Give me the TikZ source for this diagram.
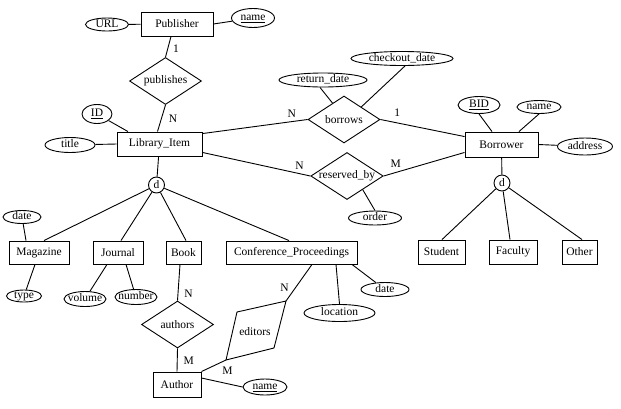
\documentclass[tikz,border=0pt]{standalone}
\usepackage{fontspec}
\setmainfont{Liberation Serif}
\usetikzlibrary{shapes.geometric, positioning}

\begin{document}
\begin{tikzpicture}[x = 1pt, y = -1pt, line width = 0.9pt, font = \fontsize{11.5}{13}\selectfont,
		entity/.style = {draw, rectangle, minimum height = 24pt, inner sep = 1pt},
		attrib/.style = {draw, ellipse, inner xsep = -4pt, inner ysep = 0pt, text height = 6.5pt, text depth = 1.5pt},
		relation/.style = {draw, diamond, aspect = 1.55, minimum width = 72pt, minimum height = 47pt, inner sep = 0pt},
		disjoint/.style = {draw, circle, minimum size = 16pt, inner sep = 0pt},
		card/.style = {inner sep = 0pt}]

		% page frame
		\useasboundingbox (0, 0) rectangle (621, 408);

		% entities
		\node[entity, minimum width = 72pt] (publisher) at (177.0, 24.0) {Publisher};
		\node[entity, minimum width = 85pt] (item) at (159.5, 144.0) {Library\_Item};
		\node[entity, minimum width = 73pt, minimum height = 25pt] (borrower) at (501.5, 144.5) {Borrower};
		\node[entity, minimum width = 60pt, minimum height = 23pt] (magazine) at (39.0, 252.5) {Magazine};
		\node[entity, minimum width = 50pt, minimum height = 23pt] (journal) at (118.0, 252.5) {Journal};
		\node[entity, minimum width = 35pt, minimum height = 23pt] (book) at (183.5, 252.5) {Book};
		\node[entity, minimum width = 131pt, minimum height = 23pt] (confproc) at (291.5, 252.5) {Conference\_Proceedings};
		\node[entity, minimum width = 47pt] (student) at (441.5, 252.0) {Student};
		\node[entity, minimum width = 48pt] (faculty) at (513.0, 252.0) {Faculty};
		\node[entity, minimum width = 35pt] (other) at (579.5, 252.0) {Other};
		\node[entity, minimum width = 48pt, minimum height = 25pt] (author) at (177.0, 384.5) {Author};

		% attributes
		\node[attrib, minimum width = 43pt, minimum height = 13pt] (url) at (107.0, 24.5) {URL};
		\node[attrib, minimum width = 43pt, minimum height = 19pt] (pubname) at (253.0, 18.0) {\underline{name}};
		\node[attrib, minimum width = 30pt, minimum height = 19pt] (id) at (97.0, 114.0) {\underline{ID}};
		\node[attrib, minimum width = 50pt, minimum height = 15pt] (title) at (70.0, 145.0) {title};
		\node[attrib, minimum width = 88pt, minimum height = 14pt] (retdate) at (323.0, 80.0) {return\_date};
		\node[attrib, minimum width = 102pt, minimum height = 14pt] (checkout) at (402.0, 58.5) {checkout\_date};
		\node[attrib, minimum width = 42pt, minimum height = 17pt] (bid) at (479.0, 105.0) {\underline{BID}};
		\node[attrib, minimum width = 44pt, minimum height = 13pt] (bname) at (539.0, 107.0) {name};
		\node[attrib, minimum width = 55pt, minimum height = 17pt] (address) at (585.0, 146.5) {address};
		\node[attrib, minimum width = 53pt, minimum height = 14pt] (order) at (375.0, 218.0) {order};
		\node[attrib, minimum width = 38pt, minimum height = 13pt] (magdate) at (22.0, 217.0) {date};
		\node[attrib, minimum width = 35pt, minimum height = 12pt] (magtype) at (24.0, 296.0) {type};
		\node[attrib, minimum width = 42pt, minimum height = 15pt] (volume) at (85.0, 299.0) {volume};
		\node[attrib, minimum width = 42pt, minimum height = 15pt] (number) at (136.0, 297.0) {number};
		\node[attrib, minimum width = 71pt, minimum height = 17pt] (location) at (339.5, 313.0) {location};
		\node[attrib, minimum width = 48pt, minimum height = 14pt] (cpdate) at (385.0, 289.5) {date};
		\node[attrib, minimum width = 44pt, minimum height = 16pt] (authname) at (265.0, 387.0) {\underline{name}};

		% relationships
		\node[relation] (publishes) at (165.5, 81.0) {publishes};
		\node[relation] (borrows) at (344.0, 119.5) {borrows};
		\node[relation] (reserved) at (347.0, 176.0) {reserved\_by};
		\node[relation] (authors) at (177.5, 324.5) {authors};

		% editors (skewed diamond)
		\coordinate (EdN) at (286, 301);
		\coordinate (EdW) at (237, 312);
		\coordinate (EdS) at (226, 360);
		\coordinate (EdE) at (274, 348);
		\draw (EdN) -- (EdW) -- (EdS) -- (EdE) -- cycle;
		\node (editors) at (255, 332) {editors};

		% disjoint specialisations
		\node[disjoint] (itemd) at (156.5, 185.0) {d};
		\node[disjoint] (bord) at (502.0, 183.0) {d};

		% attribute links
		\draw (url) -- (publisher);
		\draw (publisher.east) -- (pubname);
		\draw (id) -- ([xshift = -31.5pt]item.north);
		\draw (title) -- (item.west);
		\draw ([xshift = -3pt]retdate.south) -- (borrows.125);
		\draw ([xshift = 3pt]checkout.south) -- (borrows.36);
		\draw (bid.south) -- ([xshift = -9.5pt]borrower.north);
		\draw (bname.south) -- ([xshift = 17.5pt]borrower.north);
		\draw (borrower.east) -- (address);
		\draw (reserved.-41) -- (order.north);
		\draw (magdate) -- ([xshift = -13pt]magazine.north);
		\draw ([xshift = -4pt]magazine.south) -- (magtype);
		\draw ([xshift = -11pt]journal.south) -- (volume);
		\draw ([xshift = 8pt]journal.south) -- (number);
		\draw ([xshift = 44.5pt]confproc.south) -- (location.north);
		\draw ([xshift = 60.5pt]confproc.south) -- (cpdate);
		\draw ([yshift = 6.5pt]author.east) -- (authname.west);

		% relationship links
		\draw ([xshift = -6pt]publisher.south) -- (publishes.north) node[card, pos = 0.6, right = 5pt] {1};
		\draw (publishes.south) -- ([xshift = -2pt]item.north) node[card, pos = 0.5, right = 7pt] {N};
		\draw ([yshift = -2pt]item.north east) -- (borrows.west) node[card, pos = 0.85, above = 4pt] {N};
		\draw (borrows.east) -- ([yshift = -5pt]borrower.north west) node[card, pos = 0.2, above = 6pt] {1};
		\draw ([yshift = 4pt]item.south east) -- (reserved.west) node[card, pos = 0.9, above = 4pt] {N};
		\draw (reserved.east) -- ([yshift = 5pt]borrower.south west) node[card, pos = 0.15, above = 5pt] {M};
		\draw ([xshift = -3.5pt]book.south) -- (authors.north) node[card, pos = 0.8, right = 6pt] {N};
		\draw (authors.south) -- (author.north) node[card, pos = 0.55, right = 6pt] {M};
		\draw ([xshift = 20.5pt]confproc.south) -- (EdN) node[card, pos = 0.65, left = 6pt] {N};
		\draw (EdS) -- (author.north east) node[card, pos = 0.1, below = 5pt, xshift = 4pt] {M};

		% specialisation links
		\draw (item) -- (itemd);
		\foreach \sub/\dx in {magazine/5, journal/3, book/2.5, confproc/-2.5} {
			\draw (itemd) -- ([xshift = \dx pt]\sub.north);
		}
		\draw (borrower) -- (bord);
		\foreach \sub/\dx in {student/0.5, faculty/-3, other/2.5} {
			\draw (bord) -- ([xshift = \dx pt]\sub.north);
		}

	\end{tikzpicture}
\end{document}
